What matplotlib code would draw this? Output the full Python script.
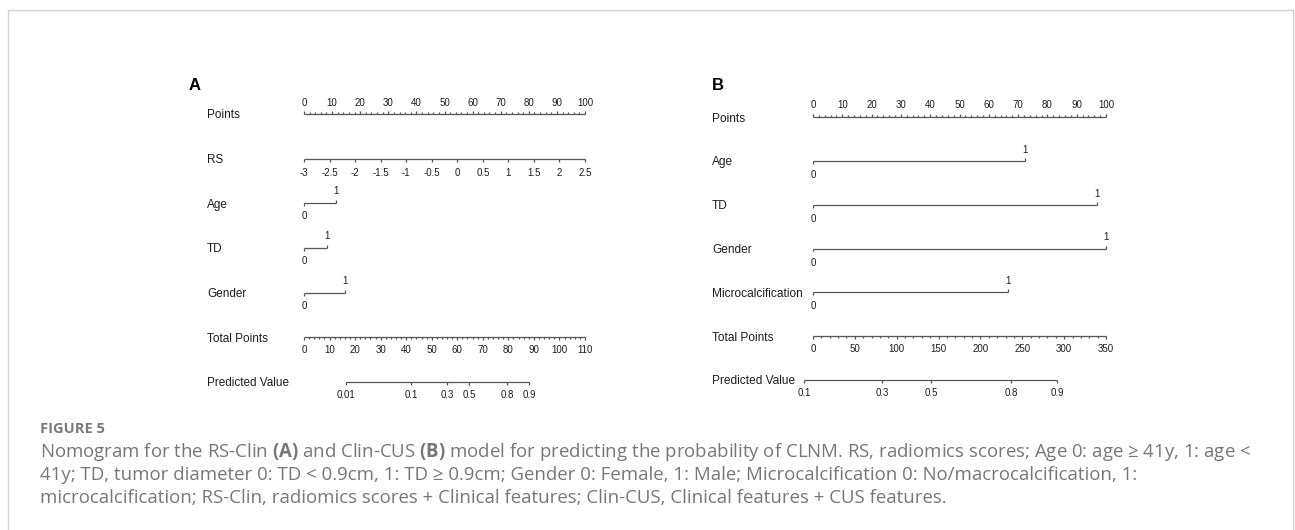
import matplotlib
matplotlib.use("Agg")
import matplotlib.pyplot as plt
import matplotlib.transforms as mtransforms
from matplotlib.lines import Line2D

# ---------------- data ----------------
points_ticks = list(range(0, 101, 10))
points_minor = list(range(0, 101, 2))

# Panel A (RS-Clin)
rs_ticks = [-3, -2.5, -2, -1.5, -1, -0.5, 0, 0.5, 1, 1.5, 2, 2.5]
rs_labels = ["-3", "-2.5", "-2", "-1.5", "-1", "-0.5", "0", "0.5", "1", "1.5", "2", "2.5"]
rs_range = [-3, 2.5]
age_A = [0, 11.4]
td_A = [0, 8.2]
gender_A = [0, 14.6]
total_A_max = 110
total_A_ticks = list(range(0, 111, 10))
total_A_minor = list(range(0, 111, 2))
pred_A_values = ["0.01", "0.1", "0.3", "0.5", "0.8", "0.9"]
pred_A_total = [16.4, 41.9, 56.0, 64.6, 79.5, 88.1]

# Panel B (Clin-CUS)
age_B = [0, 72.4]
td_B = [0, 96.9]
gender_B = [0, 100]
micro_B = [0, 66.6]
total_B_max = 350
total_B_ticks = list(range(0, 351, 50))
total_B_minor = list(range(0, 351, 10))
pred_B_values = ["0.1", "0.3", "0.5", "0.8", "0.9"]
pred_B_total = [-10.8, 82.4, 141.0, 236.5, 292.0]

caption_title = "FIGURE 5"
caption_lines = [
    "Nomogram for the RS-Clin $\\mathbf{(A)}$ and Clin-CUS $\\mathbf{(B)}$ model for predicting the probability of CLNM. RS, radiomics scores; Age 0: age \u2265 41y, 1: age <",
    "41y; TD, tumor diameter 0: TD < 0.9cm, 1: TD \u2265 0.9cm; Gender 0: Female, 1: Male; Microcalcification 0: No/macrocalcification, 1:",
    "microcalcification; RS-Clin, radiomics scores + Clinical features; Clin-CUS, Clinical features + CUS features.",
]

# ---------------- style ----------------
W, H = 1295, 530
LC = "#555555"
TC = "#1e1e1e"
LW = 0.9
NOMO_FONT = ["Liberation Sans", "DejaVu Sans"]
CAP_FONT = ["Open Sans", "DejaVu Sans"]
plt.rcParams["mathtext.fontset"] = "custom"
plt.rcParams["mathtext.rm"] = "Open Sans"
plt.rcParams["mathtext.bf"] = "Open Sans:bold"

fig = plt.figure(figsize=(W / 100, H / 100), dpi=100)
fig.patch.set_facecolor("white")


def make_axes(x0, x100, ytop, ybot, nrows=7):
    ax = fig.add_axes([x0 / W, 1 - ybot / H, (x100 - x0) / W, (ybot - ytop) / H])
    ax.set_xlim(0, 100)
    ax.set_ylim(nrows - 1, 0)
    ax.axis("off")
    ax._ppr = (ybot - ytop) / (nrows - 1)
    return ax


def off(ax, dy):
    return ax.transData + mtransforms.ScaledTranslation(0, -dy / 100, fig.dpi_scale_trans)


def hline(ax, row, xa, xb):
    ax.plot([xa, xb], [row, row], color=LC, lw=LW, solid_capstyle="butt", clip_on=False)


def ticks(ax, row, xs, length):
    # length in pixels, positive = downward
    d = length / ax._ppr
    for x in xs:
        ax.plot([x, x], [row, row + d], color=LC, lw=LW, solid_capstyle="butt", clip_on=False)


def tlabel(ax, x, row, s, dy, size):
    ax.text(x, row, s, transform=off(ax, dy), ha="center", va="center",
            fontsize=size, color=TC, family=NOMO_FONT, clip_on=False)


def vlabel(ax, xpx, row, s, size, dy=1.5):
    tr = mtransforms.blended_transform_factory(fig.transFigure, ax.transData)
    tr = tr + mtransforms.ScaledTranslation(0, -dy / 100, fig.dpi_scale_trans)
    ax.text(xpx / W, row, s, transform=tr, ha="left", va="center",
            fontsize=size, color=TC, family=NOMO_FONT)


def points_row(ax, row, size, dy):
    hline(ax, row, 0, 100)
    ticks(ax, row, [p for p in points_minor if p not in points_ticks], -1.8)
    ticks(ax, row, points_ticks, -3)
    for p in points_ticks:
        tlabel(ax, p, row, str(p), dy, size)


def binary_row(ax, row, vals, size, dy_up, dy_dn):
    hline(ax, row, vals[0], vals[1])
    ticks(ax, row, [vals[0]], 3)
    ticks(ax, row, [vals[1]], -3)
    tlabel(ax, vals[0], row, "0", dy_dn, size)
    tlabel(ax, vals[1], row, "1", dy_up, size)


def total_row(ax, row, tmax, major, minor, size, dy):
    f = 100.0 / tmax
    hline(ax, row, 0, tmax * f)
    ticks(ax, row, [m * f for m in minor if m not in major], 1.8)
    ticks(ax, row, [m * f for m in major], 3)
    for m in major:
        tlabel(ax, m * f, row, str(m), dy, size)


def pred_row(ax, row, tmax, totals, labels, size, dy):
    f = 100.0 / tmax
    xs = [t * f for t in totals]
    hline(ax, row, xs[0], xs[-1])
    ticks(ax, row, xs, 3)
    for x, s in zip(xs, labels):
        tlabel(ax, x, row, s, dy, size)


# ---------------- panel A ----------------
axA = make_axes(304, 585, 114, 382)
fsA_lab, fsA_tick = 8.5, 7.0
labA = ["Points", "RS", "Age", "TD", "Gender", "Total Points", "Predicted Value"]
for r, s in enumerate(labA):
    vlabel(axA, 207, r, s, fsA_lab)
points_row(axA, 0, fsA_tick, -11.5)
# RS
rs_pts = [(v - rs_range[0]) / (rs_range[1] - rs_range[0]) * 100 for v in rs_ticks]
hline(axA, 1, rs_pts[0], rs_pts[-1])
ticks(axA, 1, rs_pts, 3.5)
for x, s in zip(rs_pts, rs_labels):
    tlabel(axA, x, 1, s, 14, fsA_tick)
binary_row(axA, 2, age_A, fsA_tick, -12, 13)
binary_row(axA, 3, td_A, fsA_tick, -12, 13)
binary_row(axA, 4, gender_A, fsA_tick, -12, 13)
total_row(axA, 5, total_A_max, total_A_ticks, total_A_minor, fsA_tick, 12.5)
pred_row(axA, 6, total_A_max, pred_A_total, pred_A_values, fsA_tick, 13)
fig.text(189 / W, 1 - 86 / H, "A", fontsize=12, fontweight="bold", family=NOMO_FONT,
         color="black", ha="left", va="center")

# ---------------- panel B ----------------
axB = make_axes(813, 1106, 117, 380)
fsB_lab, fsB_tick = 8.6, 7.0
labB = ["Points", "Age", "TD", "Gender", "Microcalcification", "Total Points", "Predicted Value"]
for r, s in enumerate(labB):
    vlabel(axB, 712, r, s, fsB_lab)
points_row(axB, 0, fsB_tick, -12)
binary_row(axB, 1, age_B, fsB_tick, -11, 14)
binary_row(axB, 2, td_B, fsB_tick, -11, 14)
binary_row(axB, 3, gender_B, fsB_tick, -11, 14)
binary_row(axB, 4, micro_B, fsB_tick, -11, 14)
total_row(axB, 5, total_B_max, total_B_ticks, total_B_minor, fsB_tick, 12.5)
pred_row(axB, 6, total_B_max, pred_B_total, pred_B_values, fsB_tick, 13)
fig.text(712 / W, 1 - 86 / H, "B", fontsize=12, fontweight="bold", family=NOMO_FONT,
         color="black", ha="left", va="center")

# ---------------- frame & caption ----------------
fig.add_artist(Line2D([8 / W, 8 / W, 1293 / W, 1293 / W], [0, 1 - 10 / H, 1 - 10 / H, 0],
                      transform=fig.transFigure, color="#d2d2d2", lw=1.0))

CAPC = "#777777"
t_title = fig.text(40 / W, 1 - 429 / H, caption_title, fontsize=10, fontweight="bold",
                   family=CAP_FONT, color="#7a7a7a", ha="left", va="center")
caption_y = [452, 475, 498]
texts = []
for y, s in zip(caption_y, caption_lines):
    texts.append(fig.text(40 / W, 1 - y / H, s, fontsize=11, family=CAP_FONT,
                          color=CAPC, ha="left", va="center"))

# fit caption size to the measured widths of the reference
fig.canvas.draw()
r = fig.canvas.get_renderer()
w1 = texts[0].get_window_extent(r).width
scale = 1211.0 / w1
for t in texts:
    t.set_fontsize(11 * scale)
wt = t_title.get_window_extent(r).width
t_title.set_fontsize(10 * 64.0 / wt)

fig.savefig("out.png", dpi=100, facecolor="white")
